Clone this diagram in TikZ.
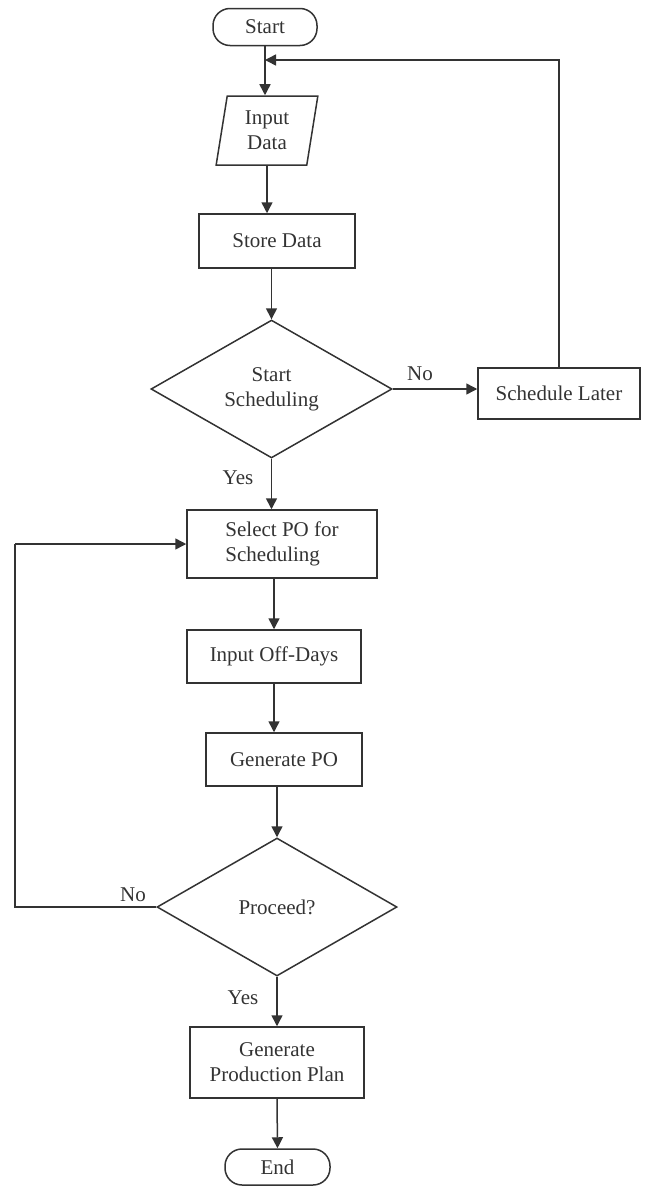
\documentclass[tikz,border=0pt]{standalone}
\usepackage{fontspec}
\setmainfont{Liberation Serif}
\usetikzlibrary{shapes.geometric,arrows.meta}
\begin{document}
\begin{tikzpicture}[x=1pt,y=-1pt,
  every node/.style={font=\fontsize{21}{25}\selectfont, text=black!80},
  box/.style={draw=black!80, line width=1.5pt, inner sep=0pt, align=center},
  term/.style={box, rounded corners=17pt},
  io/.style={box, trapezium, trapezium left angle=81, trapezium right angle=99, trapezium stretches=true},
  decide/.style={box, diamond},
  arr/.style={draw=black!80, line width=1.5pt, -{Triangle[length=11pt,width=11pt]}},
  line/.style={draw=black!80, line width=1.5pt}]
\useasboundingbox (0,0) rectangle (646,1186);
\node[term, minimum width=104pt, minimum height=37pt] (start) at (265,27) {Start};
\node[io, minimum width=102pt, minimum height=69pt] (input) at (267,130.5) {Input\\Data};
\node[box, minimum width=156pt, minimum height=54pt] (store) at (277,241) {Store Data};
\node[decide, minimum width=241pt, minimum height=136pt] (check) at (271.5,389) {Start\\Scheduling};
\node[box, minimum width=162pt, minimum height=51pt] (later) at (559,393.5) {Schedule Later};
\node[box, align=left, minimum width=190pt, minimum height=68pt] (select) at (282,544) {Select PO for\\Scheduling};
\node[box, minimum width=174pt, minimum height=53pt] (offdays) at (274,656.5) {Input Off-Days};
\node[box, minimum width=156pt, minimum height=53pt] (genpo) at (284,759.5) {Generate PO};
\node[decide, minimum width=240pt, minimum height=138pt] (proceed) at (277,907) {Proceed?};
\node[box, minimum width=174pt, minimum height=71pt] (plan) at (277,1062.5) {Generate\\Production Plan};
\node[term, minimum width=105pt, minimum height=36pt] (end) at (277.5,1167) {End};
\node (no1) at (420,374) {No};
\node (yes1) at (238,478) {Yes};
\node (no2) at (133,895) {No};
\node (yes2) at (243,998) {Yes};
\coordinate (join) at (265,60);
\coordinate (back) at (15,544);
\draw[arr] (start.south) -- (input.north -| start.south);
\draw[arr] (input.south) -- (input.south |- store.north);
\draw[arr] (store.south -| check.north) -- (check.north);
\draw[arr] (check.east) -- (check.east -| later.west);
\draw[arr] (later.north) |- (join);
\draw[arr] (check.south) -- (check.south |- select.north);
\draw[arr] (select.south -| offdays.north) -- (offdays.north);
\draw[arr] (offdays.south) -- (offdays.south |- genpo.north);
\draw[arr] (genpo.south -| proceed.north) -- (proceed.north);
\draw[line] (proceed.west) -| (back);
\draw[arr] (back) -- (select.west);
\draw[arr] (proceed.south) -- (plan.north);
\draw[arr] (plan.south) -- (end.north);
\end{tikzpicture}
\end{document}
